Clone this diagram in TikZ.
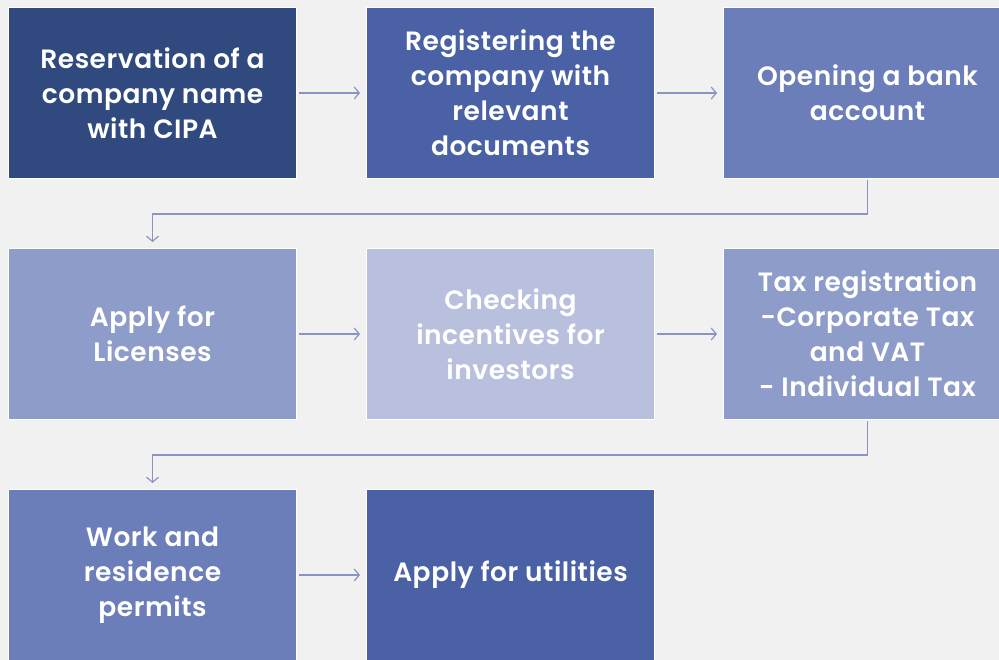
\documentclass[tikz,border=0pt]{standalone}
\usepackage{fontspec}
\setmainfont{Poppins}[UprightFont={* SemiBold}, BoldFont={* SemiBold}, LetterSpace=2]
\usepackage{xcolor}
\usetikzlibrary{positioning}
\usetikzlibrary{arrows.meta}

\definecolor{navyA}{HTML}{30497F}
\definecolor{navyB}{HTML}{4A62A5}
\definecolor{navyC}{HTML}{6B7EBA}
\definecolor{navyD}{HTML}{8E9CC9}
\definecolor{navyE}{HTML}{B9C0DD}
\definecolor{linkclr}{HTML}{8A94C2}
\definecolor{bgclr}{HTML}{F1F1F1}

\tikzset{
  stepbox/.style={draw=white, line width=1pt, anchor=north west, inner sep=0pt,
    minimum width=288pt, minimum height=171pt, text=white, align=center,
    font=\fontsize{26.5}{35}\selectfont},
  link/.style={draw=linkclr, line width=1.2pt, -{Straight Barb[length=5pt,width=12pt]}}
}

\begin{document}
\begin{tikzpicture}[x=1pt,y=-1pt]
\useasboundingbox (0,0) rectangle (999,660);
\clip (0,0) rectangle (999,660);
\fill[bgclr] (0,0) rectangle (999,660);

% first row
\node[stepbox, fill=navyA] (reserve) at (8,7) {Reservation of a\\company name\\with CIPA};
\node[stepbox, fill=navyB] (register) at (366,7) {Registering the\\company with\\relevant\\documents};
\node[stepbox, fill=navyC] (bank) at (723,7) {Opening a bank\\account};

% second row
\node[stepbox, fill=navyD] (licence) at (8,248) {Apply for\\Licenses};
\node[stepbox, fill=navyE] (incent) at (366,248) {Checking\\incentives for\\investors};
\node[stepbox, fill=navyD] (tax) at (723,248) {Tax registration\\-Corporate Tax\\and VAT\\- Individual Tax};

% third row
\node[stepbox, fill=navyC] (permit) at (8,489) {Work and\\residence\\permits};
\node[stepbox, fill=navyB] (utility) at (366,489) {Apply for utilities};

\draw[link, shorten <=2pt, shorten >=6pt] (reserve.east) -- (register.west);
\draw[link, shorten <=2pt, shorten >=6pt] (register.east) -- (bank.west);
\draw[link, shorten <=2pt, shorten >=6pt] (licence.east) -- (incent.west);
\draw[link, shorten <=2pt, shorten >=6pt] (incent.east) -- (tax.west);
\draw[link, shorten <=2pt, shorten >=6pt] (permit.east) -- (utility.west);

\draw[link, shorten >=6pt] (bank.south) ++(0,1) -- ++(0,34) -| (licence.north);
\draw[link, shorten >=6pt] (tax.south) ++(0,1) -- ++(0,34) -| (permit.north);
\end{tikzpicture}
\end{document}
